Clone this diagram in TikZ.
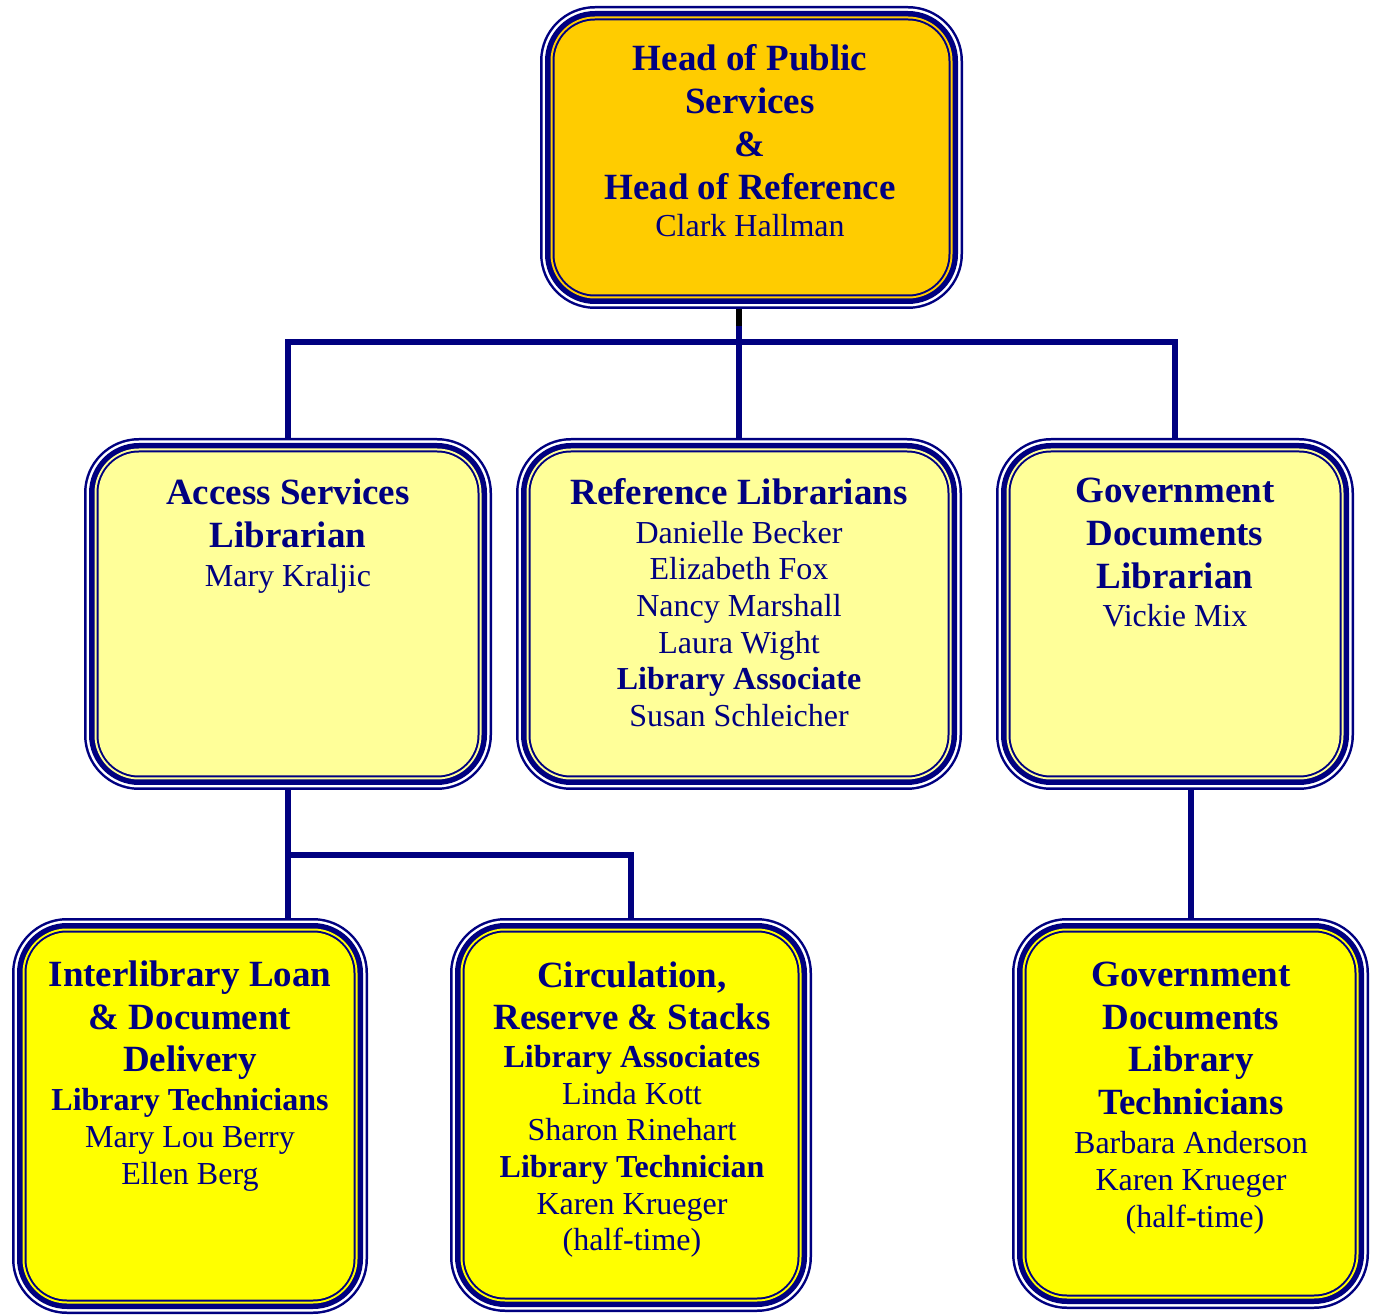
\documentclass[tikz,border=0pt]{standalone}
\usepackage{fontspec}
\setmainfont{Liberation Serif}
\definecolor{navy}{HTML}{000080}
\definecolor{goldfill}{HTML}{FFCC00}
\definecolor{palefill}{HTML}{FFFF99}
\definecolor{brightfill}{HTML}{FFFF00}
\tikzset{
  boxshape/.style={rectangle, fill=navy, draw=none, rounded corners=27.5pt, inner sep=0pt, outer sep=0pt},
  ttl/.style={text=navy, inner sep=0pt, anchor=base, yshift=-1pt, font=\fontsize{18.5}{22}\selectfont\bfseries},
  sub/.style={text=navy, inner sep=0pt, anchor=base, yshift=-1pt, font=\fontsize{16}{19}\selectfont\bfseries},
  nam/.style={text=navy, inner sep=0pt, anchor=base, yshift=-1pt, font=\fontsize{16}{19}\selectfont},
  conn/.style={navy, line width=3pt},
}
\newcommand\orgbox[6]{%
  \node[boxshape, minimum width={(#4-#2)*0.5pt}, minimum height={(#5-#3)*0.5pt}] (#1) at ({(#2+#4)/2},{(#3+#5)/2}) {};
  \fill[white, rounded corners=26.25pt] ([shift={(2.5,2.5)}]#1.north west) rectangle ([shift={(-2.5,-2.5)}]#1.south east);
  \fill[navy, rounded corners=25pt] ([shift={(5,5)}]#1.north west) rectangle ([shift={(-5,-5)}]#1.south east);
  \fill[#6, rounded corners=22.25pt] ([shift={(10.5,10.5)}]#1.north west) rectangle ([shift={(-10.5,-10.5)}]#1.south east);
  \fill[navy, rounded corners=21.25pt] ([shift={(12.5,12.5)}]#1.north west) rectangle ([shift={(-12.5,-12.5)}]#1.south east);
  \fill[#6, rounded corners=20.25pt] ([shift={(14.5,14.5)}]#1.north west) rectangle ([shift={(-14.5,-14.5)}]#1.south east);
}
\begin{document}
\begin{tikzpicture}[x=0.5pt, y=-0.5pt]
\useasboundingbox (0,0) rectangle (1377,1315);

% boxes
\orgbox{top}{540}{6}{963}{309}{goldfill}
\orgbox{acc}{84}{438}{492}{790}{palefill}
\orgbox{ref}{516}{438}{962}{790}{palefill}
\orgbox{gov}{996}{438}{1354}{790}{palefill}
\orgbox{ill}{12}{918}{368}{1314}{brightfill}
\orgbox{circ}{450}{918}{812}{1312}{brightfill}
\orgbox{gt}{1012}{918}{1369}{1309}{brightfill}

% top text
\node[ttl] (top1) at (750,69) {Head of Public};
\node[ttl] (top2) at (750,112) {Services};
\node[ttl] (top3) at (750,155) {\&};
\node[ttl] (top4) at (750,198) {Head of Reference};
\node[nam] (top5) at (750,235) {Clark Hallman};

% access
\node[ttl] (acc1) at (288,503) {Access Services};
\node[ttl] (acc2) at (288,546) {Librarian};
\node[nam] (acc3) at (288,585) {Mary Kraljic};

% reference
\node[ttl] (ref1) at (739,503) {Reference Librarians};
\node[nam] (ref2) at (739,542) {Danielle Becker};
\node[nam] (ref3) at (739,578) {Elizabeth Fox};
\node[nam] (ref4) at (739,615) {Nancy Marshall};
\node[nam] (ref5) at (739,652) {Laura Wight};
\node[sub] (ref6) at (739,688) {Library Associate};
\node[nam] (ref7) at (739,725) {Susan Schleicher};

% government documents
\node[ttl] (gov1) at (1175,501) {Government};
\node[ttl] (gov2) at (1175,544) {Documents};
\node[ttl] (gov3) at (1175,587) {Librarian};
\node[nam] (gov4) at (1175,625) {Vickie Mix};

% interlibrary loan
\node[ttl] (ill1) at (190,984) {Interlibrary Loan};
\node[ttl] (ill2) at (190,1027) {\& Document};
\node[ttl] (ill3) at (190,1069) {Delivery};
\node[sub] (ill4) at (190,1108) {Library Technicians};
\node[nam] (ill5) at (190,1145) {Mary Lou Berry};
\node[nam] (ill6) at (190,1182) {Ellen Berg};

% circulation
\node[ttl] (circ1) at (632,985) {Circulation,};
\node[ttl] (circ2) at (632,1027) {Reserve \& Stacks};
\node[sub] (circ3) at (632,1065) {Library Associates};
\node[nam] (circ4) at (632,1102) {Linda Kott};
\node[nam] (circ5) at (632,1138) {Sharon Rinehart};
\node[sub] (circ6) at (632,1175) {Library Technician};
\node[nam] (circ7) at (632,1212) {Karen Krueger};
\node[nam] (circ8) at (632,1248) {(half-time)};

% gov doc technicians
\node[ttl] (gt1) at (1191,984) {Government};
\node[ttl] (gt2) at (1191,1027) {Documents};
\node[ttl] (gt3) at (1191,1069) {Library};
\node[ttl] (gt4) at (1191,1112) {Technicians};
\node[nam] (gt5) at (1191,1151) {Barbara Anderson};
\node[nam] (gt6) at (1191,1188) {Karen Krueger};
\node[nam] (gt7) at (1195,1225) {(half-time)};

% connectors
\coordinate (bus1) at (740,342);
\coordinate (bus2) at (288,855);
\draw[conn] (top.south -| ref.north) -- (ref.north);
\draw[conn] (acc.north) |- (bus1) -| (gov.north);
\draw[black, line width=3pt] (top.south -| ref.north) -- ++(0,17);
\draw[conn] (acc.south) -- (acc.south |- ill.north);
\draw[conn] (bus2) -| (circ.north);
\draw[conn] (gov.south -| gt.north) -- (gt.north);
\end{tikzpicture}
\end{document}
